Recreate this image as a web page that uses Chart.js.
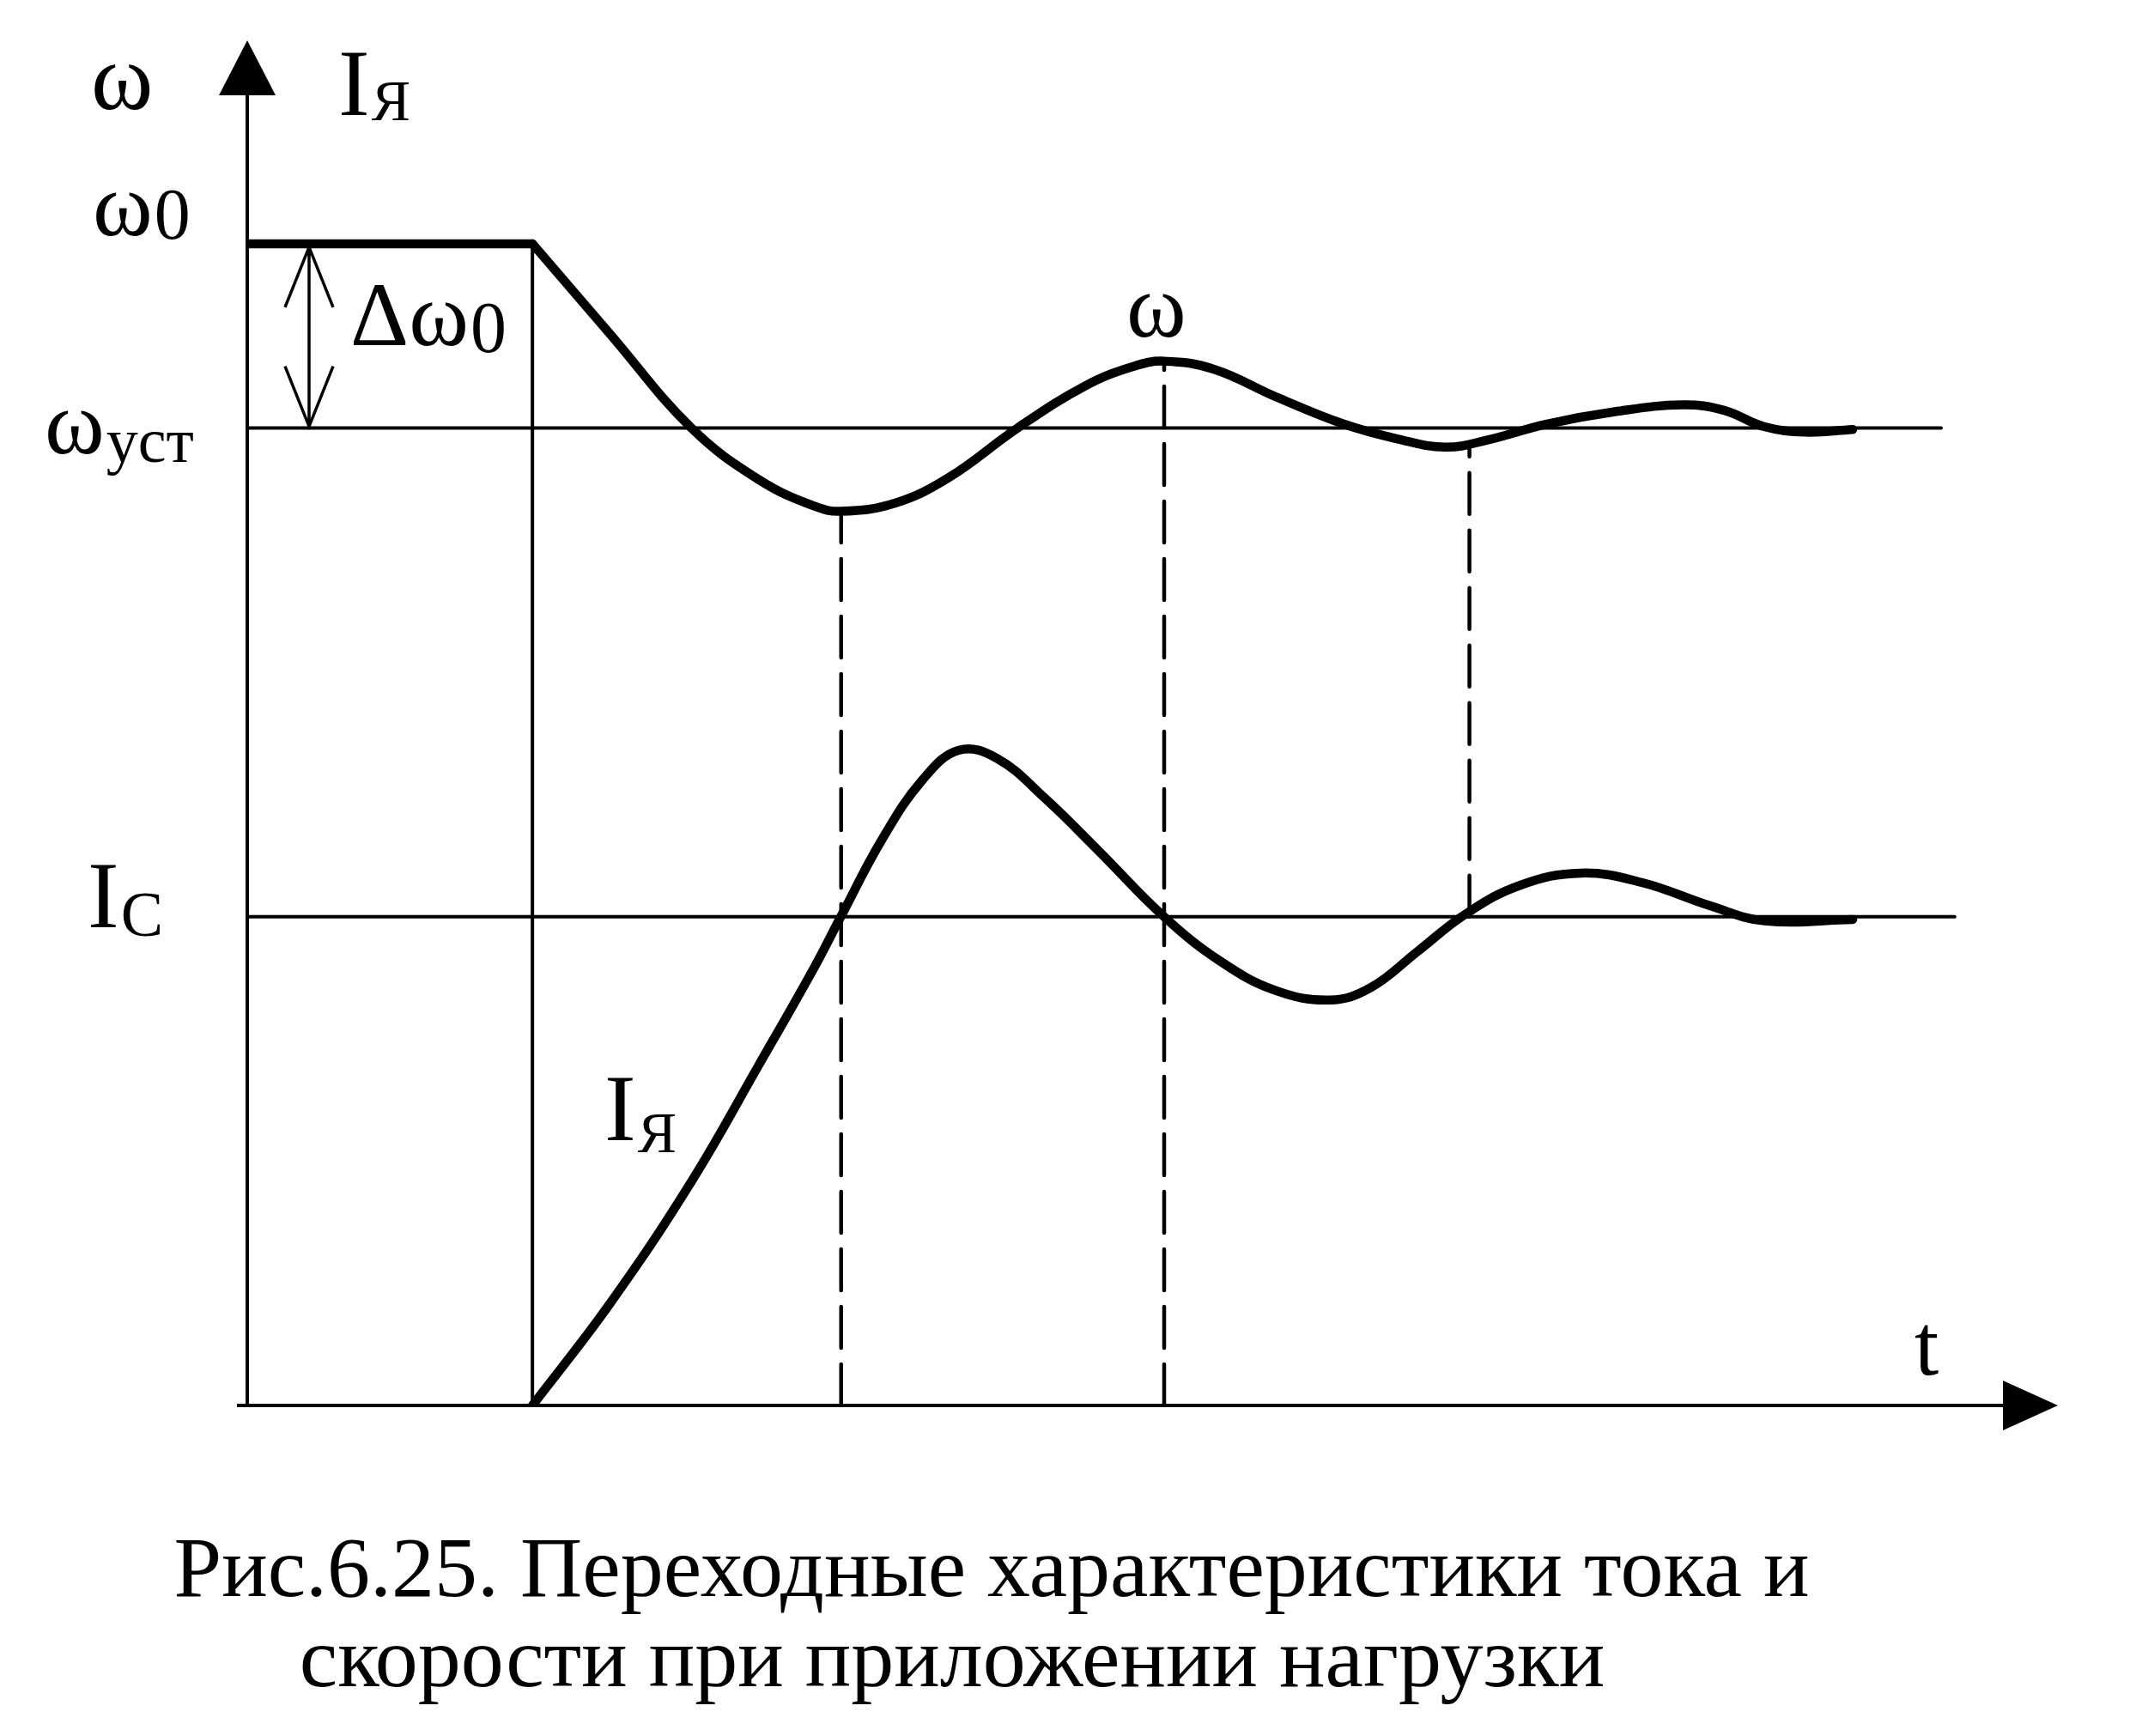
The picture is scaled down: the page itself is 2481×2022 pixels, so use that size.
<!DOCTYPE html>
<html>
<head>
<meta charset="utf-8">
<script src="https://cdn.jsdelivr.net/npm/chart.js@4.4.0/dist/chart.umd.min.js"></script>
<style>
  html, body { margin: 0; padding: 0; background: #fff; overflow: hidden; }
</style>
</head>
<body>
<canvas id="myChart" width="2481" height="2022"></canvas>
<script>
// values in relative units (t: 0..100, y: 0..100)
const tOmega = [15.75, 20.03, 24.53, 28.28, 31.28, 32.8, 35.78, 38.78, 42.54, 46.29, 48.91, 50.64,
  53.41, 56.79, 60.54, 63.54, 66.17, 68.42, 71.79, 75.54, 79.29, 81.55, 83.8, 86.05, 88.67];
const omega = [85.1, 78.5, 71.6, 67.8, 65.9, 65.5, 66.1, 68.0, 71.6, 74.7, 76.1, 76.5,
  75.9, 73.9, 71.9, 70.8, 70.2, 70.7, 71.9, 72.8, 73.3, 72.9, 71.7, 71.3, 71.5];

const tCurrent = [15.75, 20.03, 24.53, 28.28, 31.28, 32.78, 35.03, 37.28, 39.31, 41.41, 44.04, 47.04, 50.64,
  53.79, 56.79, 59.79, 62.04, 64.67, 67.29, 70.29, 73.67, 77.04, 80.8, 83.8, 88.67];
const current = [0, 7.46, 16.4, 25.0, 32.0, 35.8, 41.4, 45.8, 48.0, 47.4, 44.5, 40.6, 35.8,
  32.5, 30.4, 29.7, 30.6, 33.3, 36.0, 38.1, 39.0, 38.3, 36.6, 35.5, 35.6];

const omega0 = 85.1;       // ω0
const omegaSteady = 71.6;  // ωуст
const currentLoad = 35.8;  // Ic
const tLoad = 15.75;       // момент приложения нагрузки
const levelEnds = [93.55, 94.3]; // ends of ωуст and Ic lines

const dashT = [32.8, 50.64, 67.5];
const dashTop = [65.5, 76.5, 70.4];
const dashBottom = [0, 0, 35.8];

const captionLines = ["Рис.6.25. Переходные характеристики тока и", "скорости при приложении нагрузки"];

function pts(xs, ys) {
  return xs.map((x, i) => ({ x: x, y: ys[i] }));
}

const datasets = [];
// thin level lines
datasets.push({ data: [{ x: 0, y: omegaSteady }, { x: levelEnds[0], y: omegaSteady }], borderColor: '#000', borderWidth: 4 });
datasets.push({ data: [{ x: 0, y: currentLoad }, { x: levelEnds[1], y: currentLoad }], borderColor: '#000', borderWidth: 4 });
datasets.push({ data: [{ x: tLoad, y: 0 }, { x: tLoad, y: omega0 }], borderColor: '#000', borderWidth: 4 });
// dashed verticals
for (let i = 0; i < dashT.length; i++) {
  datasets.push({
    data: [{ x: dashT[i], y: dashBottom[i] }, { x: dashT[i], y: dashTop[i] }],
    borderColor: '#000', borderWidth: 4.5, borderDash: [48, 19]
  });
}
// curves
datasets.push({ data: [{ x: 0, y: omega0 }, { x: tLoad, y: omega0 }], borderColor: '#000', borderWidth: 10.5 });
datasets.push({ data: pts(tOmega, omega), borderColor: '#000', borderWidth: 10.5, tension: 0.4 });
datasets.push({ data: pts(tCurrent, current), borderColor: '#000', borderWidth: 10.5, tension: 0.4 });

const SERIF = '"Liberation Serif", "Times New Roman", serif';

function label(ctx, main, sub, x, y, size, subSize, subDy) {
  ctx.font = size + 'px ' + SERIF;
  ctx.fillText(main, x, y);
  if (sub) {
    const w = ctx.measureText(main).width;
    ctx.font = subSize + 'px ' + SERIF;
    ctx.fillText(sub, x + w + 2, y + subDy);
  }
}

const sketchPlugin = {
  id: 'sketch',
  afterDraw(chart) {
    const ctx = chart.ctx;
    const xs = chart.scales.x, ys = chart.scales.y;
    const x0 = xs.getPixelForValue(0), y0 = ys.getPixelForValue(0);
    const yTop = ys.getPixelForValue(100), xRight = xs.getPixelForValue(100);
    ctx.save();
    ctx.strokeStyle = '#000';
    ctx.fillStyle = '#000';
    ctx.lineCap = 'butt';

    // axes
    ctx.lineWidth = 4;
    ctx.beginPath();
    ctx.moveTo(x0, y0 + 2);
    ctx.lineTo(x0, yTop + 50);
    ctx.moveTo(x0 - 12, y0);
    ctx.lineTo(xRight - 50, y0);
    ctx.stroke();
    ctx.beginPath();
    ctx.moveTo(x0, yTop);
    ctx.lineTo(x0 - 33, yTop + 64);
    ctx.lineTo(x0 + 33, yTop + 64);
    ctx.closePath();
    ctx.fill();
    ctx.beginPath();
    ctx.moveTo(xRight, y0);
    ctx.lineTo(xRight - 64, y0 - 29);
    ctx.lineTo(xRight - 64, y0 + 29);
    ctx.closePath();
    ctx.fill();

    // Δω0 double arrow
    const ax = x0 + 72;
    const a1 = ys.getPixelForValue(omega0) + 4, a2 = ys.getPixelForValue(omegaSteady) - 2;
    ctx.lineWidth = 3.5;
    ctx.beginPath();
    ctx.moveTo(ax, a1);
    ctx.lineTo(ax, a2);
    ctx.moveTo(ax - 28, a1 + 70); ctx.lineTo(ax, a1); ctx.lineTo(ax + 28, a1 + 70);
    ctx.moveTo(ax - 28, a2 - 70); ctx.lineTo(ax, a2); ctx.lineTo(ax + 28, a2 - 70);
    ctx.stroke();

    // labels
    ctx.textBaseline = 'alphabetic';
    ctx.textAlign = 'left';
    label(ctx, 'ω', null, 106, 127, 110);
    label(ctx, 'I', 'Я', 394, 134, 110, 68, 6);
    label(ctx, 'ω', '0', 108, 274, 106, 84, 4);
    label(ctx, 'Δω', '0', 408, 402, 106, 84, 8);
    label(ctx, 'ω', 'уст', 52, 528, 106, 74, 10);
    label(ctx, 'ω', null, 1312, 392, 106);
    label(ctx, 'I', 'C', 102, 1080, 110, 74, 10);
    label(ctx, 'I', 'Я', 704, 1328, 110, 68, 14);
    label(ctx, 't', null, 2230, 1601, 102);

    // caption
    ctx.textAlign = 'center';
    ctx.font = '100px ' + SERIF;
    ctx.fillText(captionLines[0], 1155, 1859);
    ctx.fillText(captionLines[1], 1109, 1964);
    ctx.restore();
  }
};

new Chart(document.getElementById('myChart'), {
  type: 'line',
  data: { datasets: datasets },
  options: {
    responsive: false,
    animation: false,
    devicePixelRatio: 1,
    layout: { padding: { left: 288, right: 84, top: 47, bottom: 385 } },
    elements: { point: { radius: 0 }, line: { fill: false, borderCapStyle: 'round', borderJoinStyle: 'round' } },
    scales: {
      x: { type: 'linear', min: 0, max: 100, display: false },
      y: { type: 'linear', min: 0, max: 100, display: false }
    },
    plugins: { legend: { display: false }, tooltip: { enabled: false } }
  },
  plugins: [sketchPlugin]
});
</script>
</body>
</html>
